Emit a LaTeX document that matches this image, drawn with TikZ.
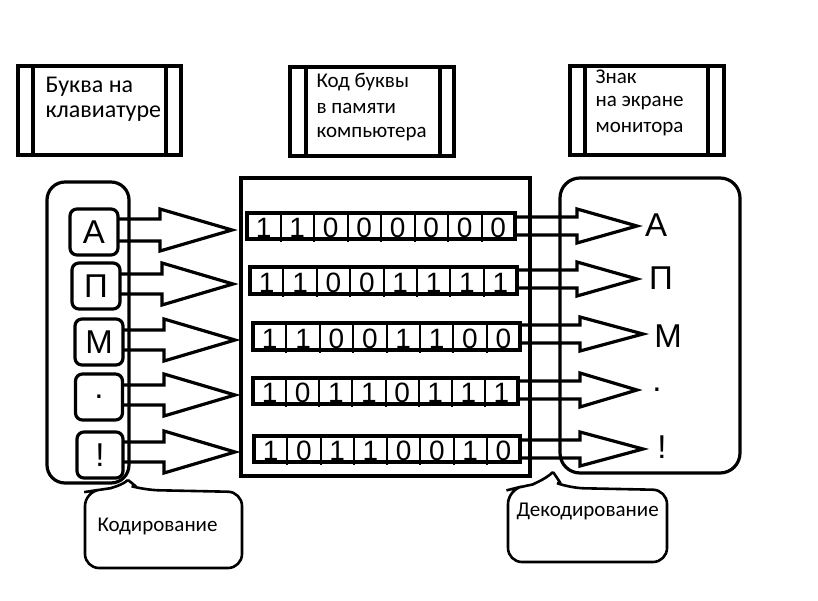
\documentclass[tikz,border=0pt]{standalone}
\usepackage{fontspec}
\setmainfont{Carlito}
\newfontfamily\arl{Liberation Sans}
\begin{document}
\begin{tikzpicture}[x=1pt,y=-1pt,line width=3.2pt,line join=miter,
  key/.style={draw,rounded corners=7pt,inner sep=0pt,font=\arl\fontsize{33}{33}\selectfont},
  outl/.style={inner sep=0pt,font=\arl\fontsize{33}{33}\selectfont},
  lbl/.style={anchor=west,inner sep=0pt,font=\fontsize{24}{24}\selectfont},
  sml/.style={anchor=west,inner sep=0pt,font=\fontsize{21}{21}\selectfont},
  dig/.style={inner sep=0pt,font=\arl\fontsize{28}{28}\selectfont}]
\useasboundingbox (0,0) rectangle (818,601);
\newcommand{\harrow}[6]{\draw (#2,#1-#5) -- (#3,#1-#5) -- (#3,#1-#6) -- (#4,#1) -- (#3,#1+#6) -- (#3,#1+#5) -- (#2,#1+#5);}
% title boxes
\draw (18,66) rectangle (181,155); \draw (33,66)--(33,155); \draw (166,66)--(166,155);
\node[lbl] (t1a) at (44,87) {Буква на};
\node[lbl] (t1b) at (44,114) {клавиатуре};
\draw (290,67) rectangle (454,156); \draw (306,67)--(306,156); \draw (440,67)--(440,156);
\node[sml] (t2a) at (315,82) {Код буквы};
\node[sml] (t2b) at (315,108) {в памяти};
\node[sml] (t2c) at (315,134) {компьютера};
\draw (570,66) rectangle (724,155); \draw (585,66)--(585,155); \draw (708,66)--(708,155);
\node[sml] (t3a) at (594,77) {Знак};
\node[sml] (t3b) at (594,103) {на экране};
\node[sml] (t3c) at (594,129) {монитора};
% containers
\draw[rounded corners=18pt] (47,182) rectangle (129,483);
\draw (241,178) rectangle (530,476);
\draw[rounded corners=20pt] (560,178) rectangle (740,473);
% keys
\node[key,minimum width=48pt,minimum height=46pt] (kA) at (94,232) {А};
\node[key,minimum width=48pt,minimum height=46pt] (kP) at (96,286) {П};
\node[key,minimum width=48pt,minimum height=46pt] (kM) at (99,342) {М};
\node[key,minimum width=47pt,minimum height=46pt] (kD) at (99,397) {.};
\node[key,minimum width=46pt,minimum height=46pt] (kE) at (100,455) {!};
% left arrows
\harrow{230}{118}{160}{232}{11}{21}
\harrow{284}{120}{162}{233}{10}{21}
\harrow{340}{123}{164}{235}{10}{21}
\harrow{395}{123}{164}{235}{10}{21}
\harrow{452}{123}{164}{235}{10}{21}
% code rows
\newcommand{\coderow}[5]{%
 \draw (#1,#3) rectangle (#2,#4);
 \foreach \dg [count=\i] in {#5}{%
   \pgfmathsetmacro{\w}{(#2-#1)/8}
   \ifnum\i>1 \draw[line width=2pt] (#1+\i*\w-\w,#3) -- (#1+\i*\w-\w,#4+3);\fi
   \node[dig] at (#1+\i*\w-\w/2,{(#3+#4)/2+2}) {\dg};}}
\coderow{247}{515}{213}{239}{1,1,0,0,0,0,0,0}
\coderow{250}{517}{267}{294}{1,1,0,0,1,1,1,1}
\coderow{253}{520}{323}{350}{1,1,0,0,1,1,0,0}
\coderow{253}{518}{378}{404}{1,0,1,1,0,1,1,1}
\coderow{254}{520}{436}{462}{1,0,1,1,0,0,1,0}
% right arrows
\harrow{226}{515}{577}{637}{9}{17}
\harrow{279}{517}{577}{637}{9}{17}
\harrow{334}{520}{580}{643}{9}{17}
\harrow{390}{518}{580}{637}{9}{17}
\harrow{449}{520}{580}{643}{9}{17}
% outputs
\node[outl] (oA) at (656,225) {А};
\node[outl] (oP) at (661,278) {П};
\node[outl] (oM) at (668,336) {М};
\node[outl] (oD) at (657,390) {.};
\node[outl] (oE) at (662,447) {!};
% callouts
\draw[line width=2.6pt,rounded corners=14pt] (128,480) .. controls (120,487) and (105,489) .. (98,490)
  -- (85,492) -- (85,568) -- (242,568) -- (242,492) -- (145,490) .. controls (138,488) .. (128,480);
\node[sml] (c1) at (96,526) {Кодирование};
\draw[line width=2.6pt,rounded corners=14pt] (553,472) .. controls (545,480) and (530,485) .. (520,487)
  -- (508,490) -- (508,562) -- (667,562) -- (667,490) -- (570,488) .. controls (562,485) .. (553,472);
\node[sml] (c2) at (515,511) {Декодирование};
\end{tikzpicture}
\end{document}
